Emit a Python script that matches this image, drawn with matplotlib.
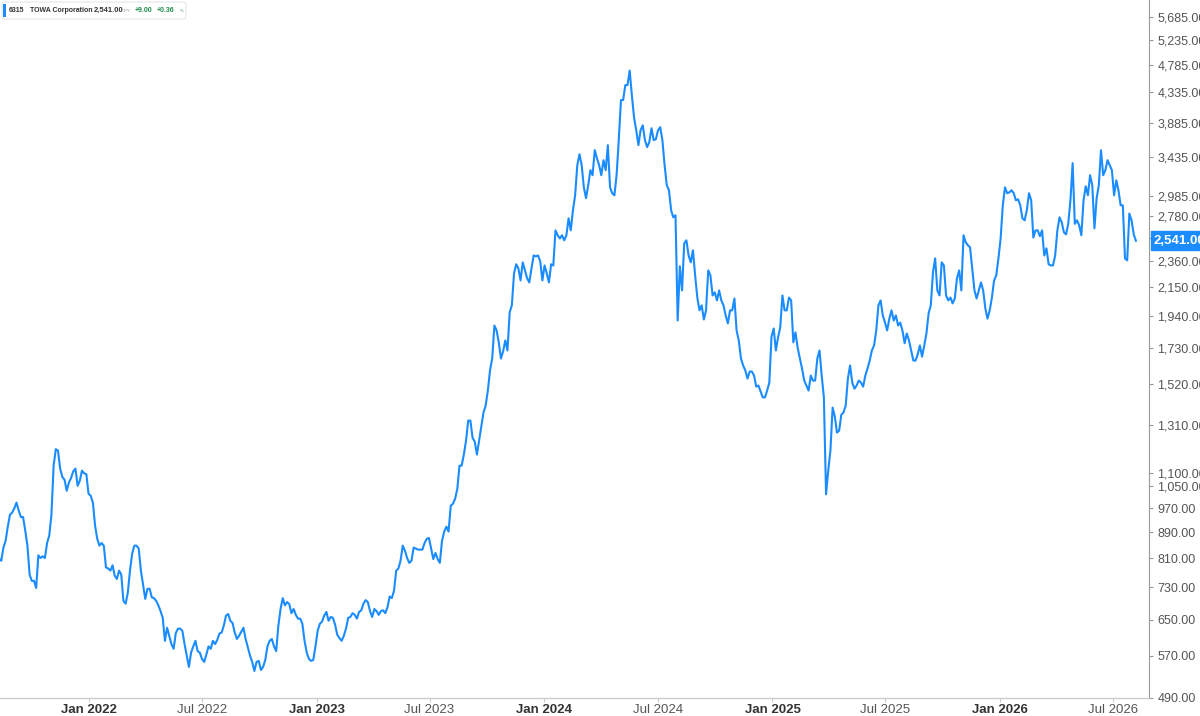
import matplotlib
matplotlib.use("Agg")
import matplotlib.pyplot as plt
from matplotlib.patches import FancyBboxPatch, Rectangle
import pandas as pd

plt.rcParams['font.family'] = ['Liberation Sans', 'DejaVu Sans']

# ---- data ----
end_date = "2026-08-07"
# end-of-week closes (262 weeks)
week_close = [
    863, 803, 863, 948, 970, 962, 940, 848, 747, 728,
    811, 811, 879, 1131, 1194, 1086, 1033, 1082, 1119, 1071,
    1100, 1022, 990, 869, 856, 784, 775, 761, 775, 695,
    716, 824, 848, 775, 700, 726, 702, 684, 654, 631,
    595, 619, 629, 595, 548, 590, 580, 564, 573, 585,
    595, 618, 636, 663, 642, 606, 622, 606, 571, 540,
    560, 548, 590, 606, 580, 675, 684, 687, 675, 652,
    640, 577, 560, 590, 640, 659, 647, 654, 615, 602,
    629, 656, 661, 668, 688, 692, 656, 670, 670, 665,
    706, 721, 781, 848, 811, 803, 839, 836, 856, 872,
    808, 808, 863, 908, 979, 1004, 1131, 1177, 1330, 1250,
    1177, 1297, 1404, 1593, 1873, 1763, 1706, 1712, 2014, 2335,
    2203, 2284, 2187, 2410, 2410, 2203, 2260, 2335, 2638, 2562,
    2545, 2755, 2835, 3336, 3336, 2962, 3276, 3521, 3336, 3396,
    3585, 3015, 3217, 4216, 4450, 4690, 3964, 3585, 3850, 3560,
    3810, 3662, 3824, 3336, 3048, 2765, 1907, 2125, 2545, 2351,
    2243, 1978, 1914, 2284, 2087, 2050, 2050, 1942, 1978, 2064,
    1775, 1622, 1547, 1587, 1503, 1477, 1446, 1525, 1853, 1794,
    2087, 1978, 2050, 1827, 1663, 1536, 1482, 1536, 1663, 1564,
    1020, 1194, 1350, 1283, 1369, 1547, 1525, 1509, 1525, 1564,
    1651, 1743, 2014, 1942, 1840, 1978, 1942, 1893, 1757, 1775,
    1651, 1688, 1674, 1820, 2014, 2385, 2087, 2325, 2050, 2028,
    2220, 2125, 2527, 2482, 2125, 2125, 2125, 1920, 2071, 2243,
    2562, 3080, 3025, 3015, 2950, 2755, 2835, 2940, 2638, 2583,
    2410, 2335, 2325, 2638, 2715, 2600, 2940, 2700, 2686, 2940,
    2993, 3103, 2962, 3520, 3276, 3336, 2993, 3048, 2887, 2368,
    2735, 2541,
]
# mid-week closes (between consecutive week_close values, 261 values)
mid_close = [
    809, 842, 908, 955, 990, 940, 895, 764, 747, 819,
    816, 856, 948, 1200, 1119, 1075, 1064, 1108, 1052, 1111,
    1097, 1015, 911, 848, 848, 781, 790, 752, 764, 688,
    775, 848, 839, 736, 726, 704, 695, 670, 602, 613,
    585, 629, 624, 571, 577, 602, 577, 558, 590, 602,
    604, 620, 659, 647, 620, 613, 631, 588, 558, 558,
    542, 562, 602, 590, 636, 702, 692, 665, 661, 652,
    602, 564, 562, 624, 645, 668, 656, 638, 608, 613,
    654, 665, 652, 672, 697, 670, 675, 661, 672, 679,
    702, 775, 803, 833, 797, 842, 836, 836, 869, 839,
    826, 797, 892, 892, 986, 1040, 1131, 1237, 1330, 1233,
    1237, 1369, 1482, 1663, 1840, 1663, 1775, 1964, 2260, 2300,
    2351, 2220, 2300, 2402, 2360, 2325, 2187, 2325, 2592, 2592,
    2592, 2638, 2993, 3470, 3080, 3103, 3217, 3420, 3217, 3276,
    3080, 2993, 3650, 4216, 4450, 4290, 3783, 3783, 3650, 3624,
    3650, 3783, 3650, 3103, 2835, 2785, 2318, 2518, 2410, 2455,
    2071, 2014, 1978, 2243, 2110, 2125, 2014, 1887, 1978, 1840,
    1663, 1593, 1587, 1564, 1509, 1446, 1482, 1800, 1712, 1860,
    1978, 2071, 1763, 1728, 1604, 1509, 1564, 1536, 1712, 1446,
    1111, 1394, 1274, 1359, 1404, 1622, 1492, 1536, 1503, 1604,
    1712, 1840, 2050, 1893, 1920, 1907, 1873, 1840, 1820, 1712,
    1651, 1743, 1743, 1957, 2268, 2125, 2351, 2087, 2071, 2064,
    2284, 2592, 2500, 2300, 2064, 2187, 1992, 1978, 2203, 2385,
    2887, 3015, 3048, 2940, 2887, 2735, 3015, 2570, 2638, 2638,
    2473, 2325, 2410, 2765, 2620, 2705, 3360, 2735, 2592, 3092,
    3217, 2657, 3103, 3217, 3396, 3276, 3159, 2887, 2385, 2803,
    2600,
]

prices = []
for i, w in enumerate(week_close):
    prices.append(w)
    if i < len(mid_close):
        prices.append(mid_close[i])
dates = pd.date_range(end=end_date, periods=len(prices), freq="84h")

y_ticks = [490, 570, 650, 730, 810, 890, 970, 1050, 1100, 1310, 1520, 1730,
           1940, 2150, 2360, 2570, 2780, 2985, 3435, 3885, 4335, 4785, 5235, 5685]
x_tick_dates = ["2022-01-01", "2022-07-01", "2023-01-01", "2023-07-01", "2024-01-01",
                "2024-07-01", "2025-01-01", "2025-07-01", "2026-01-01", "2026-07-01"]
x_tick_labels = ["Jan 2022", "Jul 2022", "Jan 2023", "Jul 2023", "Jan 2024",
                 "Jul 2024", "Jan 2025", "Jul 2025", "Jan 2026", "Jul 2026"]

ticker_code = "6315"
company = "TOWA Corporation"
currency = "JPY"
last_price = 2541.00
change = 9.00
change_pct = 0.36

LINE = "#1a8cff"
GREEN = "#1f8a4c"
W, H = 1200, 716

fig = plt.figure(figsize=(12, 7.16), dpi=100)
ax = fig.add_axes([0, (H - 698) / H, 1149 / W, 698 / H])

ax.plot(dates, prices, color=LINE, lw=1.5, solid_joinstyle="round")

ax.set_yscale("log")
ax.set_ylim(490, 6045)
ax.set_xlim(pd.Timestamp("2021-08-11"), pd.Timestamp("2026-08-28"))

ax.yaxis.tick_right()
ax.set_yticks(y_ticks)
ax.set_yticklabels([f"{v:,.2f}" for v in y_ticks])
ax.yaxis.set_minor_locator(matplotlib.ticker.NullLocator())
ax.tick_params(axis="y", which="major", direction="out", length=3, width=0.8,
               color="#999999", labelcolor="#555555", labelsize=9, pad=3)

ax.set_xticks([pd.Timestamp(d) for d in x_tick_dates])
ax.set_xticklabels(x_tick_labels)
ax.xaxis.set_minor_locator(matplotlib.ticker.NullLocator())
ax.tick_params(axis="x", which="major", direction="out", length=3, width=0.8,
               color="#cccccc", labelsize=9.5, pad=1.5)
for lbl in ax.get_xticklabels():
    if lbl.get_text().startswith("Jan"):
        lbl.set_fontweight("bold")
        lbl.set_color("#333333")
    else:
        lbl.set_color("#555555")

for s in ["top", "left"]:
    ax.spines[s].set_visible(False)
ax.spines["right"].set_color("#999999")
ax.spines["right"].set_linewidth(0.8)
ax.spines["bottom"].set_color("#cccccc")
ax.spines["bottom"].set_linewidth(1.0)
ax.grid(False)

# last price label on the axis
ax.annotate(f"{last_price:,.2f}", xy=(1.0, last_price), xycoords=("axes fraction", "data"),
            xytext=(3.5, 0), textcoords="offset points", ha="left", va="center",
            fontsize=9.5, fontweight="bold", color="white", annotation_clip=False,
            bbox=dict(boxstyle="square,pad=0.25", fc=LINE, ec=LINE))

# header legend
def fx(px):
    return px / W

def fy(py):
    return 1 - py / H

box = FancyBboxPatch((fx(2), fy(19)), fx(184), 17 / H, boxstyle="round,pad=0,rounding_size=0.003",
                     transform=fig.transFigure, fc="white", ec="#e6e6e6", lw=0.8)
fig.patches.append(box)
bar = Rectangle((fx(3), fy(17)), fx(2.5), 13 / H, transform=fig.transFigure, fc=LINE, ec="none")
fig.patches.append(bar)
ty = fy(10.5)
fs = 5
fig.text(fx(9), ty, ticker_code, fontsize=fs, fontweight="bold", color="#333333", va="center")
fig.text(fx(30), ty, company, fontsize=fs, fontweight="bold", color="#333333", va="center")
fig.text(fx(94), ty, f"{last_price:,.2f}", fontsize=fs + 0.5, fontweight="bold", color="#333333", va="center")
fig.text(fx(123), fy(11.5), currency, fontsize=3, color="#888888", va="center")
fig.text(fx(135), ty, f"+{change:.2f}", fontsize=fs, fontweight="bold", color=GREEN, va="center")
fig.text(fx(157), ty, f"+{change_pct:.2f}", fontsize=fs, fontweight="bold", color=GREEN, va="center")
fig.text(fx(180), fy(11.5), "%", fontsize=3, color=GREEN, va="center")

fig.savefig("out.png", dpi=100, facecolor="white")
